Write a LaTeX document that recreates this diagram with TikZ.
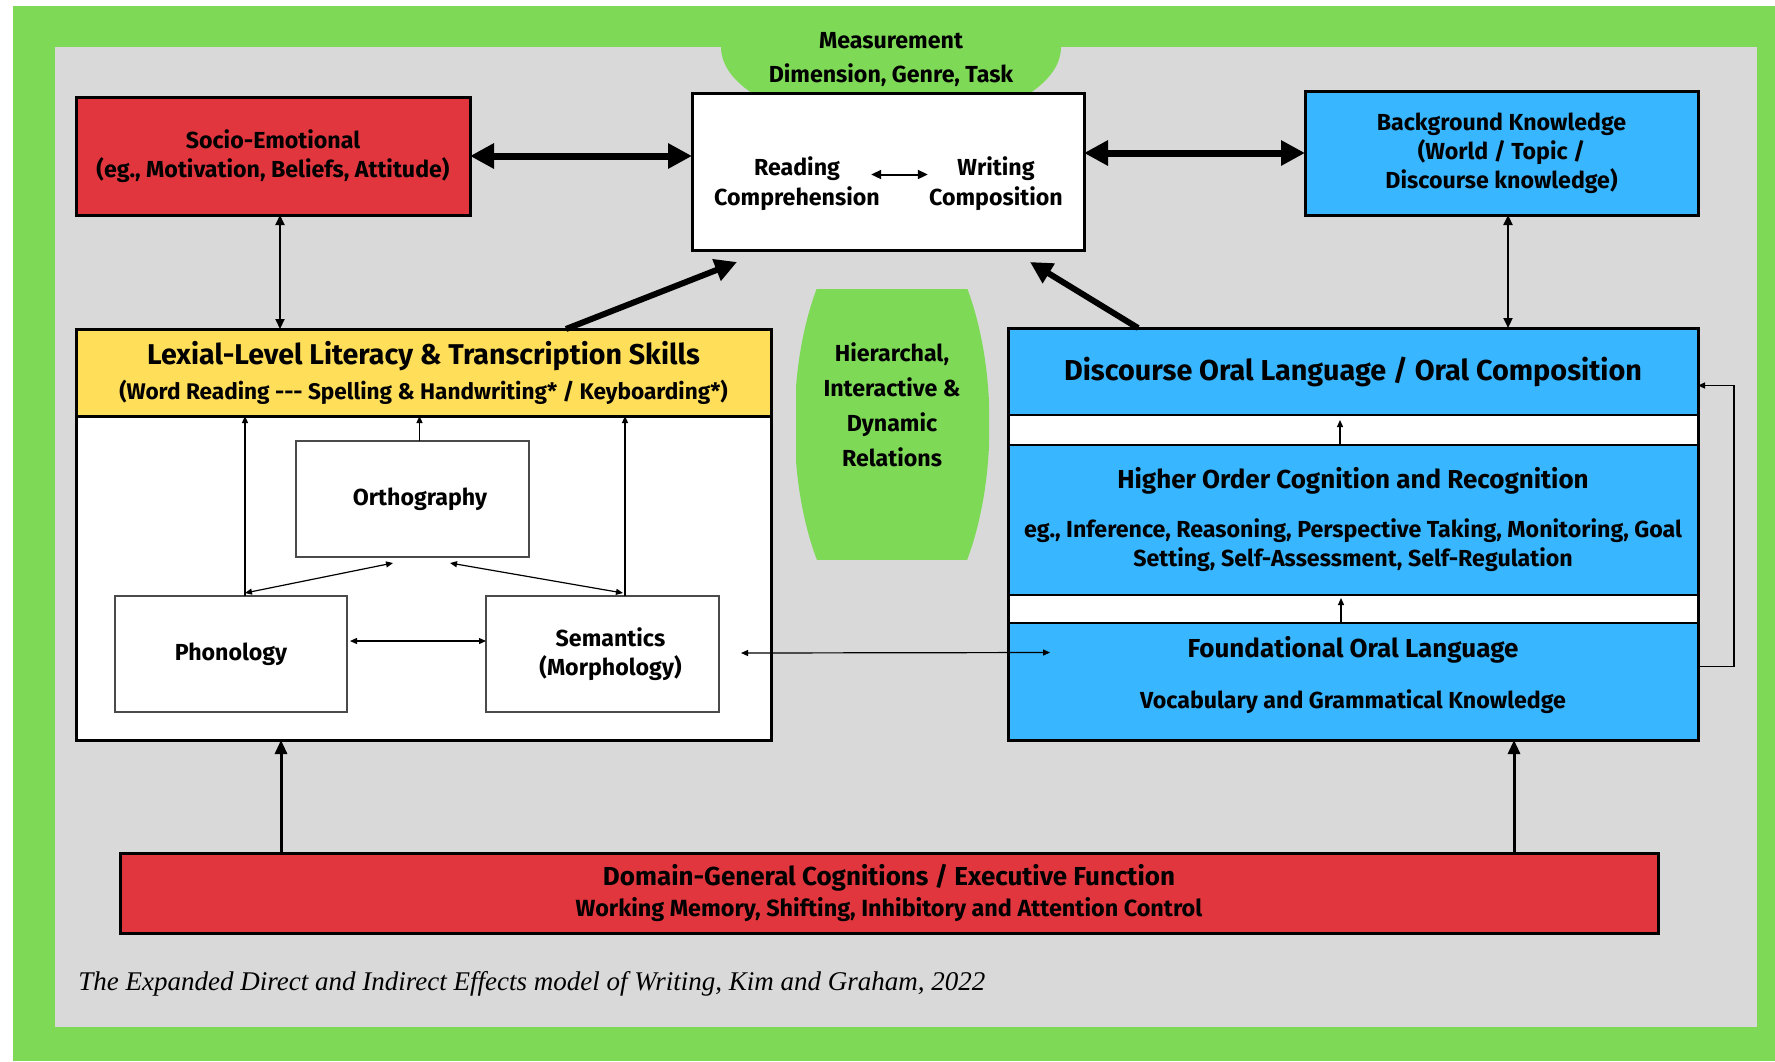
\documentclass[tikz,border=0pt]{standalone}
\usepackage{fontspec}
\setmainfont{Fira Sans}
\newfontfamily\capfont{Liberation Serif}
\usepackage{tikz}
\usetikzlibrary{arrows.meta,calc,positioning,shadows}
\definecolor{green}{HTML}{7ED957}
\definecolor{panel}{HTML}{D9D9D9}
\definecolor{red}{HTML}{E2363F}
\definecolor{blue}{HTML}{38B6FF}
\definecolor{yellow}{HTML}{FFDE59}
\definecolor{edge}{HTML}{4A4A4A}

\begin{document}
\begin{tikzpicture}[x=0.5pt,y=-0.5pt,
  txt/.style={inner sep=0pt,align=center,font=\bfseries\fontsize{11.6}{15}\selectfont},
  box/.style 2 args={draw=black,line width=1.5pt,inner sep=0pt,outer sep=0pt,
    minimum width=#1*0.5pt,minimum height=#2*0.5pt,align=center,
    font=\bfseries\fontsize{11.6}{14.5}\selectfont},
  inbox/.style 2 args={box={#1}{#2},draw=edge,line width=0.7pt,fill=white},
  boxshadow/.style={drop shadow={opacity=0.25,shadow xshift=0.8pt,shadow yshift=-1.2pt}},
  big/.style={line width=3.5pt,>={Triangle[length=12pt,width=12pt]}},
  diag/.style={line width=3pt,>={Triangle[length=11pt,width=11pt]}},
  up/.style={line width=1.5pt,>={Triangle[length=7pt,width=6pt]}},
  med/.style={line width=1pt,>={Triangle[length=5pt,width=4.5pt]}},
  sm/.style={line width=0.6pt,>={Triangle[length=3.5pt,width=3pt]}}]
  \fill[white] (0,0) rectangle (1775,1061);
  \useasboundingbox (0,0) rectangle (1775,1061);
  \fill[green] (13,6) rectangle (1775,1061);
  \fill[panel] (55,47) rectangle (1757,1027);
  \begin{scope}
    \clip (13,6) rectangle (1775,1061);
    \fill[green] (891,47) ellipse [x radius=170, y radius=80];
  \end{scope}
  \node[txt,font=\bfseries\fontsize{11.6}{17}\selectfont] (meas) at (891,60) {Measurement\\Dimension, Genre, Task};

  \node[box={392}{157},fill=white,boxshadow] (read) at (888,171.5) {};
  \node[txt] (rc) at (797,183.5) {Reading\\Comprehension};
  \node[txt] (wc) at (996,183.5) {Writing\\Composition};
  \node[box={394}{118},fill=red,boxshadow] (socio) at (273,156) {Socio-Emotional\\(eg., Motivation, Beliefs, Attitude)};
  \node[box={393}{124},fill=blue,boxshadow] (bk) at (1501.5,153) {Background Knowledge\\(World / Topic /\\Discourse knowledge)};

  \node[box={695}{411},fill=white,boxshadow] (lex) at (423.5,534.5) {};
  \node[box={695}{87},fill=yellow,anchor=north,font=\bfseries\fontsize{11.3}{17.5}\selectfont] (lexhead) at (lex.north)
    {{\fontsize{14.3}{17.5}\selectfont Lexial-Level Literacy \& Transcription Skills}\\(Word Reading -{}-{}- Spelling \& Handwriting* / Keyboarding*)};
  \node[inbox={233}{116}] (orth) at (412.5,499) {\hspace*{7.5pt}Orthography};
  \node[inbox={232}{116}] (phon) at (231,654) {Phonology};
  \node[inbox={233}{116}] (sem) at (602.5,654) {\hspace*{8pt}Semantics\\\hspace*{8pt}(Morphology)};

  \begin{scope}
    \clip (796,289) rectangle (989,559);
    \fill[green] (892,424) ellipse [x radius=97.5, y radius=213];
  \end{scope}
  \node[txt,font=\bfseries\fontsize{11.6}{17.5}\selectfont] (hier) at (892,405) {Hierarchal,\\Interactive \&\\Dynamic\\Relations};

  \node[box={690}{412},fill=white,boxshadow] (oral) at (1353,534) {};
  \node[box={690}{87},fill=blue,line width=1pt,anchor=north] (disc) at (oral.north)
    {\fontsize{14.4}{16}\selectfont Discourse Oral Language / Oral Composition};
  \node[box={690}{150},fill=blue,line width=1pt] (hoc) at (1353,520)
    {{\fontsize{13}{15}\selectfont Higher Order Cognition and Recognition}\\[10pt]eg., Inference, Reasoning, Perspective Taking, Monitoring, Goal\\Setting, Self-Assessment, Self-Regulation};
  \node[box={690}{117},fill=blue,line width=1pt,anchor=south] (fol) at (oral.south) {};
  \node[txt,font=\bfseries\fontsize{11.6}{25.5}\selectfont] (foltxt) at ([shift={(0,-6)}]fol.center)
    {{\fontsize{13}{25.5}\selectfont Foundational Oral Language}\\Vocabulary and Grammatical Knowledge};
  \draw[line width=1.5pt] (oral.north west) rectangle (oral.south east);

  \node[box={1538}{80},fill=red,boxshadow,font=\bfseries\fontsize{11.7}{15.5}\selectfont] (dom) at (889,893)
    {{\fontsize{13}{15.5}\selectfont Domain-General Cognitions / Executive Function}\\Working Memory, Shifting, Inhibitory and Attention Control};
  \node[anchor=west,inner sep=0pt,font=\capfont\itshape\fontsize{13.5}{16}\selectfont] (cap) at (78,984)
    {The Expanded Direct and Indirect Effects model of Writing, Kim and Graham, 2022};

  \draw[med,<->] ([shift={(-9,-9)}]rc.east) -- ([shift={(-1,-9)}]wc.west);
  \draw[big,<->] (socio.east) -- (socio.east -| read.west);
  \draw[big,<->] (bk.west -| read.east) -- (bk.west);
  \draw[diag,->] ([shift={(142.5,0)}]lex.north) -- ([shift={(45,12)}]read.south west);
  \draw[diag,->] ([shift={(-215,0)}]disc.north) -- ([shift={(-54,12)}]read.south east);
  \draw[med,<->] ([shift={(7,0)}]socio.south) -- ([shift={(7,0)}]socio.south |- lex.north);
  \draw[med,<->] ([shift={(6.5,0)}]bk.south) -- ([shift={(6.5,0)}]bk.south |- disc.north);

  \draw[sm,->] ([shift={(14,0)}]phon.north) -- ([shift={(14,0)}]phon.north |- lexhead.south);
  \draw[sm,->] ([shift={(7,0)}]orth.north) -- ([shift={(7,0)}]orth.north |- lexhead.south);
  \draw[sm,->] ([shift={(22.5,0)}]sem.north) -- ([shift={(22.5,0)}]sem.north |- lexhead.south);
  \draw[sm,<->] ([shift={(14,-3)}]phon.north) -- ([shift={(-19.5,6)}]orth.south);
  \draw[sm,<->] ([shift={(37.5,6)}]orth.south) -- ([shift={(20.5,-3)}]sem.north);
  \draw[sm,<->] ([shift={(3,-13)}]phon.east) -- ([shift={(0,-13)}]sem.west);
  \draw[sm,<->] ([shift={(22,-1)}]sem.east) -- ([shift={(42,-29)}]fol.west);

  \draw[sm,->] ([shift={(-13,0)}]hoc.north) -- ([shift={(-13,5)}]disc.south);
  \draw[sm,->] ([shift={(-12,0)}]fol.north) -- ([shift={(-12,3)}]hoc.south);
  \draw[sm,->] ([shift={(0,-15)}]fol.east) -- ++(36,0) |- ([shift={(0,14)}]disc.east);

  \draw[up,->] ([shift={(-142.5,0)}]lex.south |- dom.north) -- ([shift={(-142.5,0)}]lex.south);
  \draw[up,->] ([shift={(161,0)}]fol.south |- dom.north) -- ([shift={(161,0)}]fol.south);
\end{tikzpicture}
\end{document}
